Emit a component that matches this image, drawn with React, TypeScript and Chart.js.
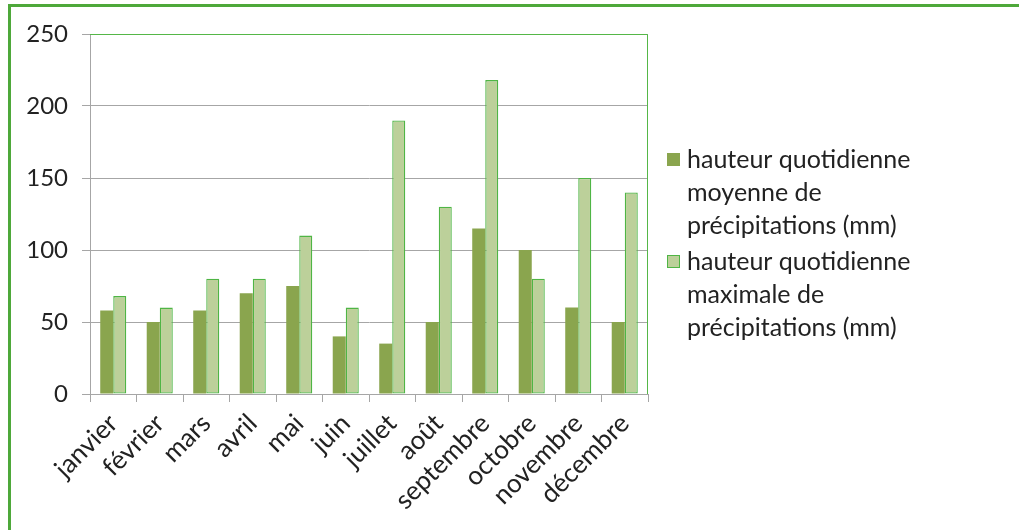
import React, { useEffect, useRef } from "react";
import { Chart, registerables } from "chart.js";

Chart.register(...registerables);

const months = ["janvier", "février", "mars", "avril", "mai", "juin", "juillet", "août", "septembre", "octobre", "novembre", "décembre"];
const moyenne = [58, 50, 58, 70, 75, 40, 35, 50, 115, 100, 60, 50];
const maximale = [68, 60, 80, 80, 110, 60, 190, 130, 218, 80, 150, 140];
const seriesLabels = [
  ["hauteur quotidienne", "moyenne de", "précipitations (mm)"],
  ["hauteur quotidienne", "maximale de", "précipitations (mm)"],
];

const FONT = "Lato";
const TEXT = "#222222";
const GRID = "#a6a6a6";
const FRAME = "#55b748";

const legendPlugin = {
  id: "sideLegend",
  afterDraw(chart: any) {
    const ctx = chart.ctx;
    ctx.save();
    ctx.font = `25px ${FONT}`;
    ctx.textBaseline = "middle";
    ctx.textAlign = "left";
    const x0 = 667;
    const startY = [160, 262];
    chart.data.datasets.forEach((ds: any, i: number) => {
      const y = startY[i];
      ctx.fillStyle = ds.backgroundColor;
      ctx.fillRect(x0, y - 7, 13, 13);
      if (ds.borderWidth) {
        ctx.strokeStyle = ds.borderColor;
        ctx.lineWidth = 1;
        ctx.strokeRect(x0 + 0.5, y - 6.5, 12, 12);
      }
      ctx.fillStyle = TEXT;
      (ds.label as string[]).forEach((line, j) => {
        ctx.fillText(line, 687, y + j * 33);
      });
    });
    ctx.restore();
  },
};

const framePlugin = {
  id: "frame",
  afterDatasetsDraw(chart: any) {
    const { left, top, right, bottom } = chart.chartArea;
    const ctx = chart.ctx;
    ctx.save();
    ctx.strokeStyle = FRAME;
    ctx.lineWidth = 1;
    ctx.beginPath();
    ctx.moveTo(Math.round(left), Math.round(top) + 0.5);
    ctx.lineTo(Math.round(right) - 0.5, Math.round(top) + 0.5);
    ctx.lineTo(Math.round(right) - 0.5, Math.round(bottom));
    ctx.stroke();
    ctx.restore();
  },
};

export default function App() {
  const ref = useRef<HTMLCanvasElement>(null);
  useEffect(() => {
    if (!ref.current) return;
    const chart = new Chart(ref.current, {
      type: "bar",
      data: {
        labels: months,
        datasets: [
          {
            label: seriesLabels[0] as any,
            data: moyenne,
            backgroundColor: "#8aa54e",
            borderWidth: 0,
            categoryPercentage: 0.56,
            barPercentage: 1,
          },
          {
            label: seriesLabels[1] as any,
            data: maximale,
            backgroundColor: "#bcd09a",
            borderColor: "#4fb545",
            borderWidth: 1.3,
            borderSkipped: false,
            categoryPercentage: 0.56,
            barPercentage: 1,
          },
        ],
      },
      options: {
        animation: false,
        responsive: true,
        maintainAspectRatio: false,
        layout: { padding: { left: 0, top: 34, right: 371, bottom: 0 } },
        plugins: { legend: { display: false }, tooltip: { enabled: false } },
        scales: {
          x: {
            grid: { offset: true, drawOnChartArea: false, drawTicks: true, tickLength: 8, color: GRID },
            border: { color: GRID },
            ticks: { maxRotation: 45, minRotation: 45, autoSkip: false, font: { family: FONT, size: 26 }, color: TEXT, padding: 6 },
            afterFit: (s: any) => { s.height = 136; },
          },
          y: {
            min: 0,
            max: 250,
            ticks: { stepSize: 50, font: { family: FONT, size: 24 }, color: TEXT, padding: 14 },
            grid: { color: GRID, tickLength: 8 },
            border: { color: GRID },
            afterFit: (s: any) => { s.width = 90; },
          },
        },
      },
      plugins: [legendPlugin, framePlugin],
    });
    return () => chart.destroy();
  }, []);
  return (
    <div style={{ position: "absolute", left: 0, top: 0, width: 1019, height: 530, background: "#fff" }}>
      <div style={{ position: "absolute", left: 8, top: 4, right: 0, bottom: 0, borderLeft: "3px solid #4ea83a", borderTop: "3px solid #4ea83a" }} />
      <canvas ref={ref} style={{ position: "absolute", left: 0, top: 0 }} />
    </div>
  );
}
